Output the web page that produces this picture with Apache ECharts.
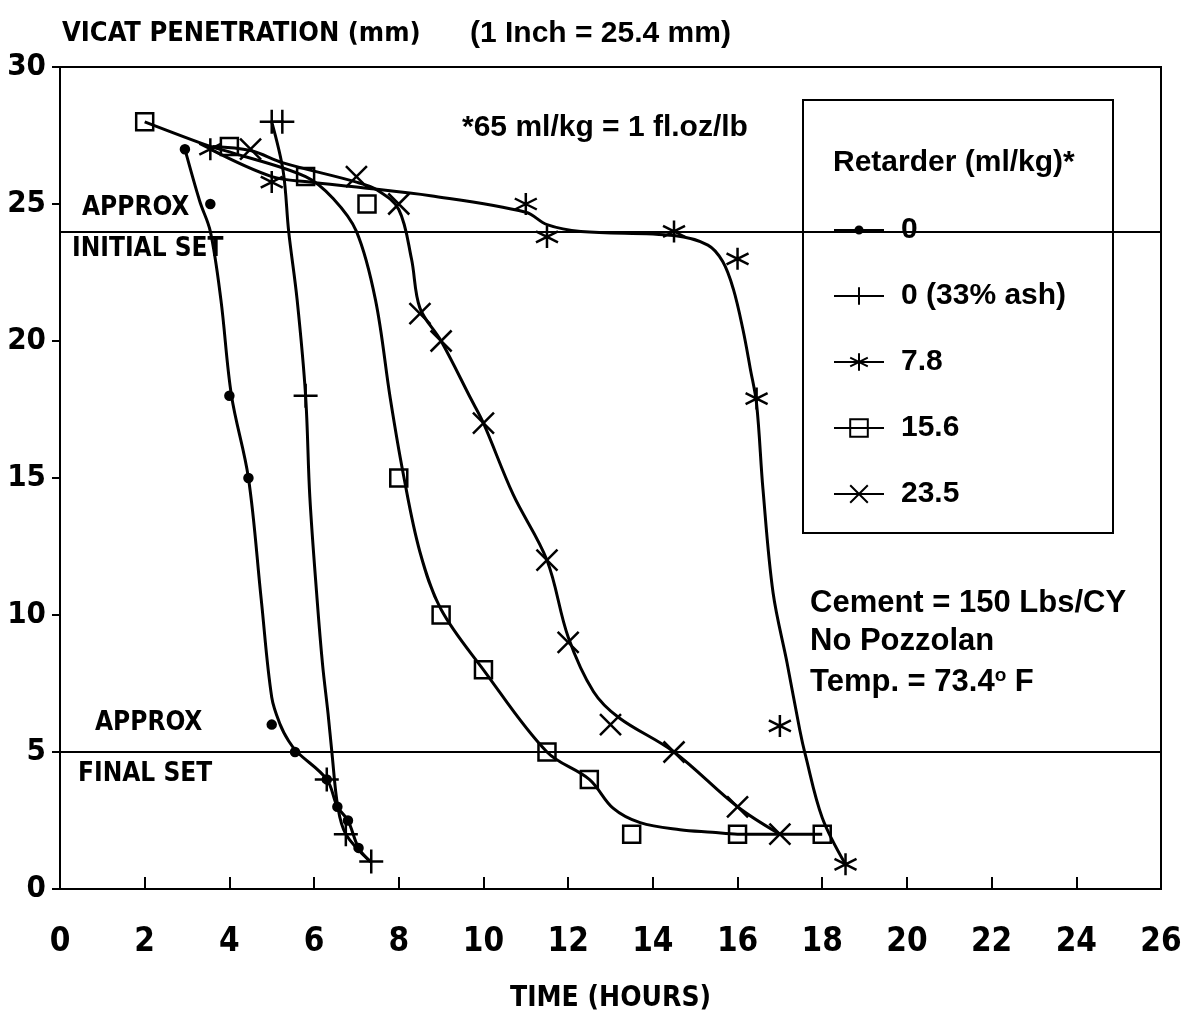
<!DOCTYPE html>
<html>
<head>
<meta charset="utf-8">
<title>Vicat penetration</title>
<script src="https://cdn.jsdelivr.net/npm/echarts@6/dist/echarts.min.js"></script>
<style>
html, body { margin: 0; padding: 0; background: #fff; }
#chart { width: 1195px; height: 1018px; }
</style>
</head>
<body>
<div id="chart"></div>
<script>
// ---- data: [time (h), penetration (mm)] ----
// measured points (markers)
var pts0 = [[2.95, 27], [3.55, 25], [4, 18], [4.45, 15], [5, 6], [5.55, 5], [6.3, 4], [6.55, 3], [6.8, 2.5], [7.05, 1.5]];
var ptsAsh = [[5.0, 28], [5.25, 28], [5.8, 18], [6.3, 4], [6.75, 2], [7.35, 1]];
var pts78 = [[3.55, 27], [5, 25.8], [11, 25], [11.5, 23.8], [14.5, 24], [16, 23], [16.45, 17.9], [17, 5.95], [18.55, 0.9]];
var pts156 = [[2, 28], [4, 27.1], [5.8, 26], [7.25, 25], [8, 15], [9, 10], [10, 8], [11.5, 5], [12.5, 4], [13.5, 2], [16, 2], [18, 2]];
var pts235 = [[4.5, 27], [7, 26], [8, 25], [8.5, 21], [9, 20], [10, 17], [11.5, 12], [12, 9], [13, 6], [14.5, 5], [16, 3], [17, 2]];

// hand-drawn fitted curves
var curve0 = [[2.95, 27], [3.3, 25.1], [3.55, 24], [3.8, 21.5], [4.05, 18], [4.45, 15], [4.75, 10.6], [5, 7], [5.2, 6], [5.4, 5.4], [5.6, 5], [6.3, 4], [6.55, 3], [6.8, 2.5], [7.05, 1.5], [7.33, 1]];
var curveAsh = [[5.0, 28], [5.27, 26.2], [5.4, 24], [5.6, 21.5], [5.8, 18], [5.9, 14.3], [6.07, 10.6], [6.2, 8.2], [6.33, 6.4], [6.42, 5], [6.56, 3], [6.75, 2], [7.33, 1]];
var curve78 = [[3.55, 27], [5, 26], [5.9, 25.8], [7.1, 25.6], [8.75, 25.3], [11, 24.7], [11.5, 24.25], [12.3, 24], [14.5, 23.85], [15.3, 23.5], [15.65, 22.9], [15.9, 21.9], [16.13, 20.4], [16.3, 19], [16.45, 17.7], [16.6, 14.6], [16.84, 10.8], [17.17, 8.25], [17.47, 5.8], [17.6, 4.9], [18, 2.6], [18.55, 0.9]];
var curve156 = [[2, 28], [3.55, 27.1], [4, 26.9], [5.8, 26], [6.45, 25.2], [7, 24], [7.45, 21.5], [7.8, 17.9], [8.1, 15.2], [8.5, 12.3], [9, 10.2], [10, 8], [11.5, 5], [12.5, 4], [13.06, 2.95], [13.7, 2.42], [14.64, 2.16], [15.4, 2.07], [16, 2], [18, 2]];
var curve235 = [[3.6, 27.1], [4.5, 26.95], [5.27, 26.5], [7, 25.8], [7.5, 25.5], [8, 24.8], [8.3, 23], [8.5, 21.2], [9, 20], [9.7, 17.9], [10, 17], [10.7, 14.4], [11.5, 12], [12, 9.2], [12.6, 7.2], [13.2, 6.25], [14.5, 5], [16, 3], [17, 2]];

var setLevels = [24, 5];   // approx initial set / final set
var legendNames = ['0', '0 (33% ash)', '7.8', '15.6', '23.5'];
var xTicks = [0, 26, 2];
var yTicks = [0, 30, 5];

var NARROW = "'Liberation Sans Narrow', 'DejaVu Sans Condensed', 'Arial Narrow', sans-serif";
var PLAIN = "'Liberation Sans', Arial, sans-serif";

// small dot drawn inside a 20x20 box so it stays small in the legend too
var DOT = 'path://M0,0M20,20M6,10a4,4 0 1,0 8,0a4,4 0 1,0 -8,0Z';
var PLUS = 'path://M10,0L10,20M0,10L20,10';
var STAR = 'path://M10,0L10,20M1.34,5L18.66,15M1.34,15L18.66,5';
var BOX = 'path://M0,0L20,0L20,20L0,20Z';
var CROSS = 'path://M0,0L20,20M20,0L0,20';

var groups = [
    {name: legendNames[0], curve: curve0, pts: pts0, symbol: DOT, size: 20, fill: '#000'},
    {name: legendNames[1], curve: curveAsh, pts: ptsAsh, symbol: PLUS, size: 24, fill: 'none'},
    {name: legendNames[2], curve: curve78, pts: pts78, symbol: STAR, size: 22, fill: 'none'},
    {name: legendNames[3], curve: curve156, pts: pts156, symbol: BOX, size: 17, fill: 'none'},
    {name: legendNames[4], curve: curve235, pts: pts235, symbol: CROSS, size: 21, fill: 'none'}
];

var series = [];
groups.forEach(function (g) {
    series.push({
        name: g.name,
        type: 'line',
        data: g.curve,
        smooth: 0.35,
        showSymbol: false,
        symbol: g.symbol,
        symbolSize: g.size,
        lineStyle: {color: '#000', width: 3},
        itemStyle: {color: g.fill, borderColor: '#000', borderWidth: 2.5},
        silent: true
    });
});
groups.forEach(function (g) {
    series.push({
        name: g.name,
        type: 'scatter',
        data: g.pts,
        symbol: g.symbol,
        symbolSize: g.size,
        itemStyle: {color: g.fill, borderColor: '#000', borderWidth: 2.5, opacity: 1},
        z: 3,
        silent: true
    });
});
// the two "set" reference lines
series.push({
    type: 'line',
    data: [],
    silent: true,
    markLine: {
        silent: true,
        symbol: ['none', 'none'],
        label: {show: false},
        lineStyle: {color: '#000', width: 2, type: 'solid'},
        data: setLevels.map(function (v) { return {yAxis: v}; })
    }
});

function txt(x, y, text, size, family) {
    return {
        type: 'text', x: x, y: y, z: 6,
        style: {text: text, fontSize: size, fontWeight: 'bold', fontFamily: family, fill: '#000', align: 'left', verticalAlign: 'middle'}
    };
}

var option = {
    animation: false,
    backgroundColor: '#fff',
    grid: {left: 60, right: 34, top: 67, bottom: 126, show: true, borderColor: '#000', borderWidth: 2},
    xAxis: {
        type: 'value', min: xTicks[0], max: xTicks[1], interval: xTicks[2],
        name: 'TIME (HOURS)', nameLocation: 'middle', nameGap: 96,
        nameTextStyle: {fontFamily: NARROW, fontWeight: 'bold', fontSize: 28, color: '#000'},
        axisLine: {lineStyle: {color: '#000', width: 2}},
        axisTick: {inside: true, length: 12, lineStyle: {color: '#000', width: 2}},
        axisLabel: {margin: 37, fontFamily: NARROW, fontWeight: 'bold', fontSize: 33, color: '#000'},
        splitLine: {show: false}
    },
    yAxis: {
        type: 'value', min: yTicks[0], max: yTicks[1], interval: yTicks[2],
        axisLine: {show: true, lineStyle: {color: '#000', width: 2}},
        axisTick: {show: true, length: 8, lineStyle: {color: '#000', width: 2}},
        axisLabel: {margin: 14, fontFamily: NARROW, fontWeight: 'bold', fontSize: 31, color: '#000'},
        splitLine: {show: false}
    },
    legend: {
        orient: 'vertical', left: 828, top: 210,
        itemWidth: 50, itemHeight: 22, itemGap: 36,
        selectedMode: false,
        textStyle: {fontFamily: PLAIN, fontWeight: 'bold', fontSize: 30, color: '#000', lineHeight: 30, padding: [0, 0, 0, 12]},
        data: legendNames
    },
    graphic: [
        {type: 'rect', z: 3, shape: {x: 803, y: 100, width: 310, height: 433}, style: {fill: '#fff', stroke: '#000', lineWidth: 2}},
        txt(833, 163, 'Retarder (ml/kg)*', 30, PLAIN),
        txt(62, 34, 'VICAT PENETRATION (mm)', 27, NARROW),
        txt(470, 34, '(1 Inch = 25.4 mm)', 30, PLAIN),
        txt(462, 128, '*65 ml/kg = 1 fl.oz/lb', 30, PLAIN),
        txt(82, 208, 'APPROX', 26, NARROW),
        txt(72, 249, 'INITIAL SET', 26, NARROW),
        txt(95, 723, 'APPROX', 26, NARROW),
        txt(78, 774, 'FINAL SET', 26, NARROW),
        txt(810, 603, 'Cement = 150 Lbs/CY', 31, PLAIN),
        txt(810, 641, 'No Pozzolan', 31, PLAIN),
        {
            type: 'text', x: 810, y: 682, z: 6,
            style: {
                text: 'Temp. = 73.4{sup|o} F',
                fontSize: 31, fontWeight: 'bold', fontFamily: PLAIN, fill: '#000', align: 'left', verticalAlign: 'middle',
                rich: {sup: {fontSize: 19, fontWeight: 'bold', fontFamily: PLAIN, fill: '#000', verticalAlign: 'top'}}
            }
        }
    ],
    series: series
};

var myChart = echarts.init(document.getElementById('chart'));
myChart.setOption(option);
</script>
</body>
</html>
